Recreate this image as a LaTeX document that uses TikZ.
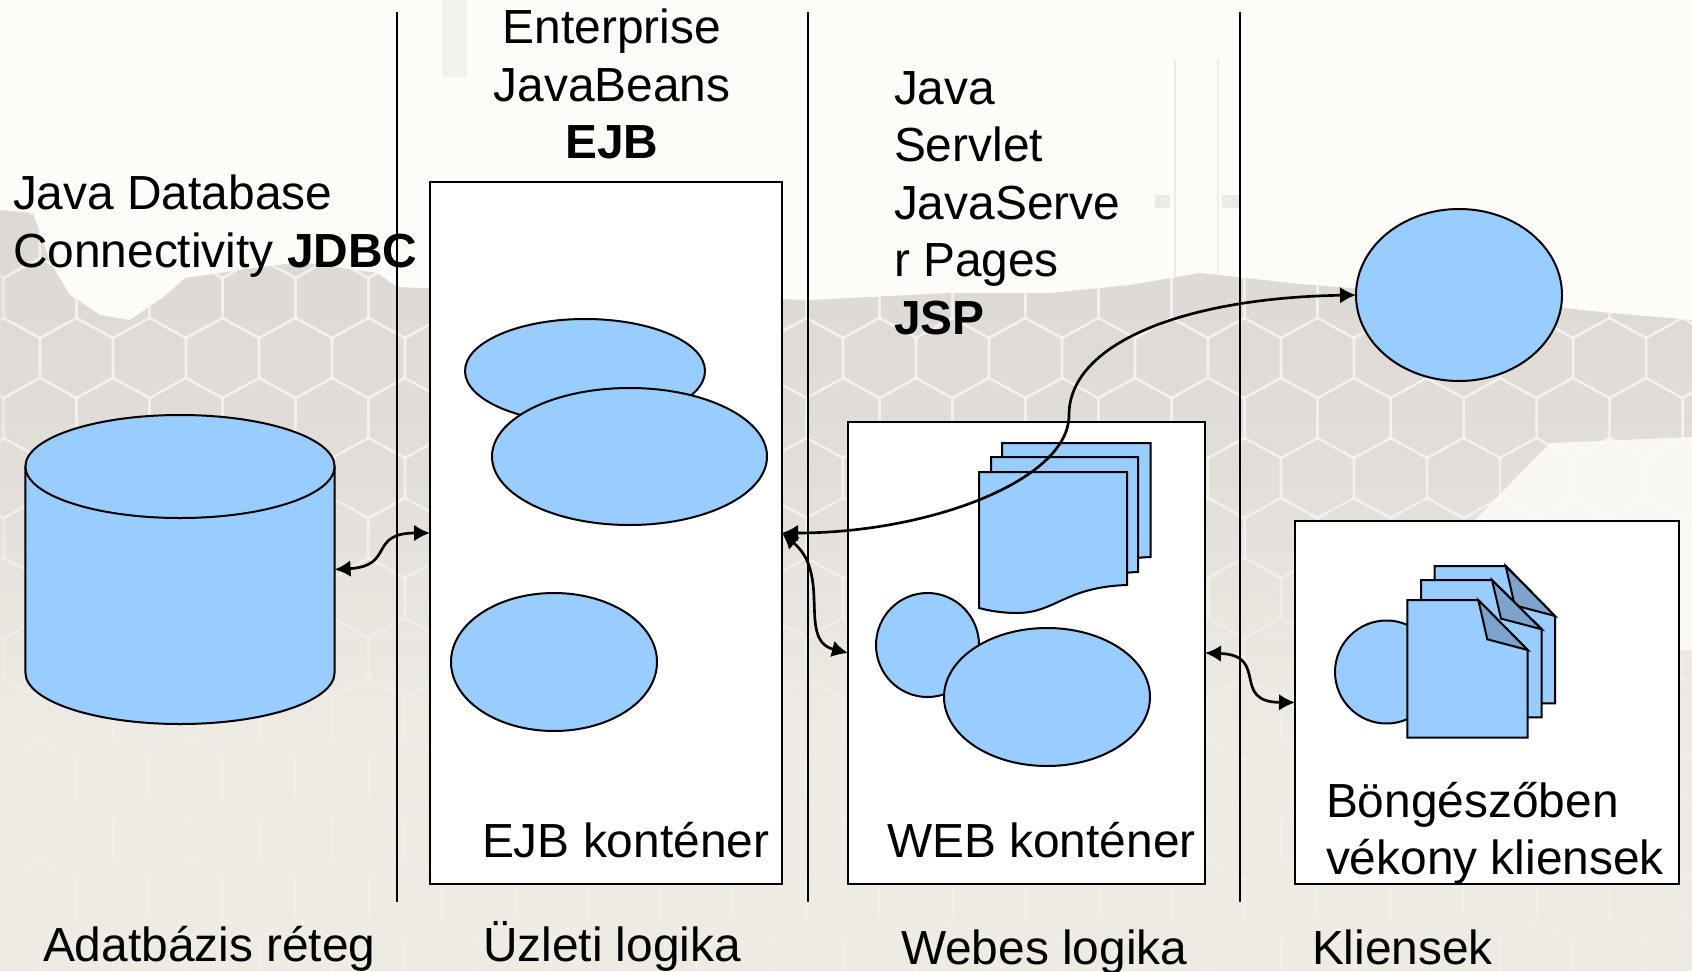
\documentclass[tikz,border=0pt]{standalone}
\usepackage{fontspec}
\setmainfont{Liberation Sans}
\usetikzlibrary{arrows.meta,shapes.geometric}
\definecolor{shapeblue}{HTML}{99CCFF}
\definecolor{foldblue}{HTML}{7BA3CC}
\definecolor{paper}{HTML}{FDFCF8}
\definecolor{bandgrey}{HTML}{DCD9D5}
\definecolor{lowgrey}{HTML}{EEEBE5}
\tikzset{
  x=0.75pt,y=-0.75pt,
  solid line/.style={draw=black,line width=1.5pt},
  boxnode/.style={solid line,fill=white,rectangle,inner sep=0pt,outer sep=0pt},
  blob/.style={solid line,fill=shapeblue,ellipse,inner sep=0pt,outer sep=0pt},
  blue shape/.style={solid line,fill=shapeblue,line join=miter},
  fold shape/.style={solid line,fill=foldblue,line join=miter},
  sep line/.style={draw=black,line width=1.5pt},
  link/.style={draw=black,line width=2pt,{Latex[length=12pt,width=12.5pt]}-{Latex[length=12pt,width=12.5pt]}},
  label/.style={font=\fontsize{35.9}{43.1}\selectfont,inner sep=0pt,outer sep=0pt,anchor=base west,text=black},
  block/.style={font=\fontsize{35.9}{43.1}\selectfont,inner sep=0pt,outer sep=0pt,text=black,anchor=north west,align=left},
  hexline/.style={draw=white,line width=1.9pt}
}
\newcommand{\wavepage}[4]{% left, top, right, bottom-right
  \path[blue shape] (#1,#2) -- (#3,#2) -- (#3,#4)
     .. controls (#3-60,#4+2) and (#3-80,#4+28) .. (#1+45,#4+28)
     .. controls (#1+25,#4+28) and (#1+10,#4+26) .. (#1,#4+23) -- cycle;}
\newcommand{\docpage}[6]{% left, top, foldx, right, foldy, bottom
  \path[blue shape] (#1,#2) -- (#3,#2) -- (#4,#5) -- (#4,#6) -- (#1,#6) -- cycle;
  \path[fold shape] (#3,#2) -- (#3+9,#5-10.7) -- (#4,#5) -- cycle;}
\begin{document}
\begin{tikzpicture}
\useasboundingbox (0,0) rectangle (1692,971);
% photographic background
\fill[paper] (0,0) rectangle (1692,971);
\fill[gray,opacity=0.08] (442,0) rectangle (467,77);
\draw[gray,opacity=0.12,line width=2pt] (1175,60) -- (1175,300) (1218,60) -- (1218,300);
\fill[gray,opacity=0.14] (1155,195) rectangle (1170,208) (1222,195) rectangle (1240,208);
\begin{scope}
  \clip (0,210) -- (33,213) -- (50,262) -- (70,295) -- (100,315) -- (130,320) -- (165,296) -- (185,278) -- (240,270) -- (300,262) -- (377,273) -- (397,287)
        -- (520,292) -- (660,296) -- (810,300) -- (950,293) -- (1050,293) -- (1130,285) -- (1200,273)
        -- (1300,284) -- (1400,292) -- (1500,300) -- (1600,312) -- (1692,320) -- (1692,971) -- (0,971) -- cycle;
  \shade[top color=bandgrey,bottom color=lowgrey,middle color=bandgrey!70!lowgrey] (0,200) rectangle (1692,730);
  \fill[lowgrey] (0,729) rectangle (1692,971);
  \foreach \r in {0,...,12}{
    \pgfmathsetmacro{\hy}{238+\r*60}
    \pgfmathsetmacro{\hop}{max(0.12,min(0.38,0.38-(\hy-450)/900))}
    \foreach \c in {0,...,24}{
      \pgfmathsetmacro{\hx}{3.5+\c*73+mod(\r,2)*36.5}
      \draw[hexline,opacity=\hop] (\hx,\hy-40) -- (\hx+36.5,\hy-20) -- (\hx+36.5,\hy+20) -- (\hx,\hy+40) -- (\hx-36.5,\hy+20) -- (\hx-36.5,\hy-20) -- cycle;
    }
  }
  \fill[paper,opacity=0.85] (1473,522) -- (1550,443) -- (1692,437) -- (1692,650) -- (1473,650) -- cycle;
\end{scope}
% separators
\coordinate (s1t) at (396.5,12); \coordinate (s1b) at (396.5,902);
\coordinate (s2t) at (808,12);   \coordinate (s2b) at (808,902);
\coordinate (s3t) at (1239.5,12);\coordinate (s3b) at (1239.5,902);
\draw[sep line] (s1t) -- (s1b);
\draw[sep line] (s2t) -- (s2b);
\draw[sep line] (s3t) -- (s3b);
% cylinder
\path[blue shape] (25.4,466.5) -- (25.4,672.5) arc[start angle=180,end angle=360,x radius=154.6,y radius=-51.5] -- (334.6,466.5) arc[start angle=0,end angle=180,x radius=154.6,y radius=-51.5] -- cycle;
\draw[solid line] (25.4,466.5) arc[start angle=180,end angle=360,x radius=154.6,y radius=-51.5];
\node[minimum width=309.2*0.75pt,minimum height=309*0.75pt,inner sep=0pt,outer sep=0pt] (db) at (180,569.5) {};
% containers
\node[boxnode,minimum width=352*0.75pt,minimum height=702*0.75pt] (ejb) at (606,533) {};
\node[boxnode,minimum width=357*0.75pt,minimum height=462*0.75pt] (web) at (1026.5,653) {};
\node[boxnode,minimum width=384*0.75pt,minimum height=363*0.75pt] (client) at (1487,702.5) {};
% EJB ellipses
\node[blob,minimum width=240*0.75pt,minimum height=104*0.75pt] (e1) at (585,371) {};
\node[blob,minimum width=275*0.75pt,minimum height=137*0.75pt] (e2) at (629.5,456.5) {};
\node[blob,minimum width=206*0.75pt,minimum height=138*0.75pt] (e3) at (554,662) {};
% web shapes
\node[blob,minimum width=103*0.75pt,minimum height=104*0.75pt] (w1) at (927.5,645) {};
\wavepage{1002}{443}{1150.7}{557}
\wavepage{991}{457}{1138}{572}
\path[blue shape] (979,472) -- (1127,472) -- (1127,585)
   .. controls (1065,587) and (1055,613) .. (1017,613)
   .. controls (1003,613) and (990,611) .. (979,608) -- cycle;
\node[blob,minimum width=206*0.75pt,minimum height=138*0.75pt] (w2) at (1047,697) {};
% jsp circle
\node[blob,minimum width=206*0.75pt,minimum height=172*0.75pt] (jsp) at (1459,295) {};
% client shapes
\node[blob,minimum width=103*0.75pt,minimum height=103*0.75pt] (c1) at (1386.5,672) {};
\docpage{1434.7}{566}{1505.7}{1555}{616}{703.3}
\docpage{1421}{580}{1492}{1541.7}{629.3}{717.3}
\docpage{1407.3}{600}{1478.3}{1527.7}{650}{737.7}
% connectors
\coordinate (bend) at (1069,415);
\draw[link] (db.east) .. controls (395,566) and (368,533) .. (ejb.west);
\draw[link] (ejb.east) .. controls (832,575) and (797,640) .. (web.west);
\draw[link] (web.east) .. controls (1270,655) and (1230,702) .. (client.west);
\draw[link] (jsp.west) .. controls (1180,298) and (1069,345) .. (bend) .. controls (1069,480) and (930,533) .. (ejb.east);
% text
\node[block] (tjdbc) at (13,175) {Java Database\\Connectivity \textbf{JDBC}};
\node[block,anchor=north,align=center] (tejb) at (612,9) {Enterprise\\JavaBeans\\\textbf{EJB}};
\node[block] (tjsp) at (894,71.5) {Java\\Servlet\\JavaServe\\r Pages\\\textbf{JSP}};
\node[label] (lejb) at (482,857.7) {EJB konténer};
\node[label] (lweb) at (887,857.7) {WEB konténer};
\node[block] (lclient) at (1326,782) {Böngészőben\\vékony kliensek};
\node[label] (ldb) at (43,961) {Adatbázis réteg};
\node[label] (lbiz) at (483,961) {Üzleti logika};
\node[label] (lwebl) at (901,964) {Webes logika};
\node[label] (lkl) at (1312,964) {Kliensek};
\end{tikzpicture}
\end{document}
